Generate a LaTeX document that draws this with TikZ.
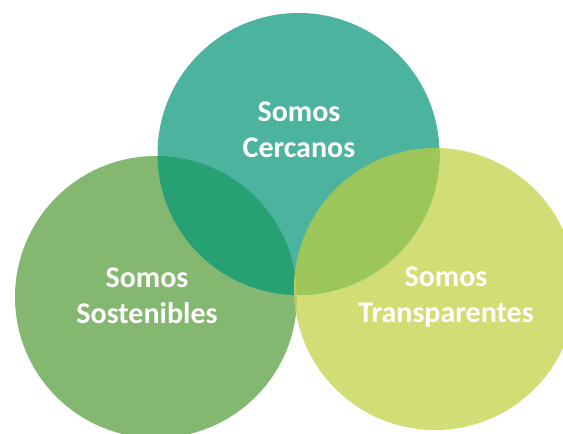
\documentclass[tikz,border=0pt]{standalone}
\usepackage{fontspec}
\setmainfont{Carlito}
\definecolor{cteal}{HTML}{4BB39E}
\definecolor{cgreen}{HTML}{84B870}
\definecolor{cyellow}{HTML}{D2DD76}
\definecolor{ctl}{HTML}{27A074}
\definecolor{ctr}{HTML}{9CC55A}
\definecolor{clr}{HTML}{B0CB62}
\begin{document}
\begin{tikzpicture}[x=1pt,y=-1pt,
  lbl/.style={text=white,font=\fontsize{30}{35.5}\selectfont\bfseries,align=center,inner sep=0pt}]
\useasboundingbox (0,0) rectangle (563,434);
\begin{scope}
\clip (0,0) rectangle (563,434);
\fill[cgreen] (156,297) circle (141);
\fill[cyellow] (435,289) circle (141);
\fill[cteal] (298.5,154) circle (141);
\begin{scope}
\clip (298.5,154) circle (141);
\fill[ctl] (156,297) circle (141);
\fill[ctr] (435,289) circle (141);
\end{scope}
\begin{scope}
\clip (156,297) circle (141);
\fill[clr] (435,289) circle (141);
\end{scope}
\end{scope}
\node[lbl] (top) at (299,130) {Somos\\Cercanos};
\node[lbl] (left) at (147,296) {Somos\\Sostenibles};
\node[lbl] (right) at (446,297) {Somos\\Transparentes};
\end{tikzpicture}
\end{document}
